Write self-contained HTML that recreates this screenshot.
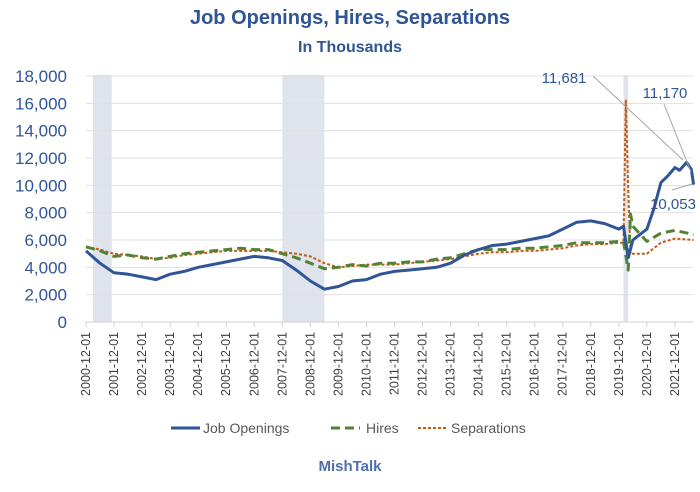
<!DOCTYPE html>
<html><head><meta charset="utf-8">
<style>
body{margin:0;background:#fff;}
svg{display:block;font-family:"Liberation Sans",sans-serif;}
</style></head>
<body>
<svg id="chart" width="700" height="492">
  <text x="350" y="24" text-anchor="middle" font-size="20" font-weight="bold" fill="#2f5597">Job Openings, Hires, Separations</text>
  <text x="350" y="52" text-anchor="middle" font-size="16" font-weight="bold" fill="#2f5597">In Thousands</text>
  <g id="bands"></g>
  <g id="grid"></g>
  <g id="xaxis"></g>
  <g id="series"></g>
  <g id="ann">
    <line x1="593" y1="76" x2="683" y2="160" stroke="#a6a6a6" stroke-width="1"/>
    <line x1="664" y1="104" x2="691" y2="172" stroke="#a6a6a6" stroke-width="1"/>
    <line x1="672" y1="190" x2="692" y2="184" stroke="#a6a6a6" stroke-width="1"/>
    <text x="564" y="83" text-anchor="middle" font-size="15" fill="#2f5597">11,681</text>
    <text x="665" y="98" text-anchor="middle" font-size="15" fill="#2f5597">11,170</text>
    <text x="673" y="209" text-anchor="middle" font-size="15" fill="#2f5597">10,053</text>
  </g>
  <g>
    <g>
      <line x1="171" y1="428" x2="200" y2="428" stroke="#2f5597" stroke-width="3"/>
      <text x="203" y="433" font-size="14" fill="#595959">Job Openings</text>
    </g>
    <g>
      <line x1="331" y1="428" x2="360" y2="428" stroke="#548235" stroke-width="3" stroke-dasharray="9,5"/>
      <text x="366" y="433" font-size="14" fill="#595959">Hires</text>
    </g>
    <g>
      <line x1="418" y1="428" x2="447" y2="428" stroke="#c55a11" stroke-width="2" stroke-dasharray="3,2"/>
      <text x="451" y="433" font-size="14" fill="#595959">Separations</text>
    </g>
  </g>
  <text x="350" y="471" text-anchor="middle" font-size="15" font-weight="bold" fill="#4f6faa">MishTalk</text>
</svg>
<script>
const yTicks=[0,2000,4000,6000,8000,10000,12000,14000,16000,18000];
const xTickLabels=["2000-12-01","2001-12-01","2002-12-01","2003-12-01","2004-12-01","2005-12-01","2006-12-01","2007-12-01","2008-12-01","2009-12-01","2010-12-01","2011-12-01","2012-12-01","2013-12-01","2014-12-01","2015-12-01","2016-12-01","2017-12-01","2018-12-01","2019-12-01","2020-12-01","2021-12-01"];
const recessions=[["2001-03","2001-11"],["2007-12","2009-06"],["2020-02","2020-04"]];
const openDates=["2000-12","2001-06","2001-12","2002-06","2002-12","2003-06","2003-12","2004-06","2004-12","2005-06","2005-12","2006-06","2006-12","2007-06","2007-12","2008-06","2008-12","2009-06","2009-12","2010-06","2010-12","2011-06","2011-12","2012-06","2012-12","2013-06","2013-12","2014-06","2014-12","2015-06","2015-12","2016-06","2016-12","2017-06","2017-12","2018-06","2018-12","2019-06","2019-12","2020-02","2020-04","2020-06","2020-12","2021-03","2021-06","2021-09","2021-12","2022-02","2022-05","2022-07","2022-08"];
const openVals=[5200,4300,3600,3500,3300,3100,3500,3700,4000,4200,4400,4600,4800,4700,4500,3800,3000,2400,2600,3000,3100,3500,3700,3800,3900,4000,4300,4900,5300,5600,5700,5900,6100,6300,6800,7300,7400,7200,6800,7000,4700,6000,6800,8300,10200,10700,11300,11100,11681,11170,10053];
const hireDates=["2000-12","2001-06","2001-12","2002-06","2002-12","2003-06","2003-12","2004-06","2004-12","2005-06","2005-12","2006-06","2006-12","2007-06","2007-12","2008-06","2008-12","2009-06","2009-12","2010-06","2010-12","2011-06","2011-12","2012-06","2012-12","2013-06","2013-12","2014-06","2014-12","2015-06","2015-12","2016-06","2016-12","2017-06","2017-12","2018-06","2018-12","2019-06","2019-12","2020-02","2020-04","2020-05","2020-06","2020-12","2021-06","2021-12","2022-08"];
const hireVals=[5500,5200,4800,4900,4700,4600,4800,5000,5100,5200,5300,5400,5300,5300,5000,4700,4300,3900,4000,4200,4100,4300,4300,4400,4400,4600,4700,5000,5300,5300,5300,5400,5400,5500,5600,5800,5800,5800,5900,5900,3800,7900,7000,5900,6500,6700,6400];
const sepDates=["2000-12","2001-06","2001-12","2002-06","2002-12","2003-06","2003-12","2004-06","2004-12","2005-06","2005-12","2006-06","2006-12","2007-06","2007-12","2008-06","2008-12","2009-06","2009-12","2010-06","2010-12","2011-06","2011-12","2012-06","2012-12","2013-06","2013-12","2014-06","2014-12","2015-06","2015-12","2016-06","2016-12","2017-06","2017-12","2018-06","2018-12","2019-06","2019-12","2020-02","2020-03","2020-04","2020-05","2020-12","2021-06","2021-12","2022-08"];
const sepVals=[5500,5300,5000,4900,4800,4600,4700,4900,5000,5100,5200,5200,5200,5200,5100,5000,4800,4300,4000,4100,4200,4200,4200,4300,4400,4500,4600,4800,5000,5100,5100,5200,5200,5300,5400,5600,5700,5700,5800,5800,16200,9800,5000,5000,5800,6100,6000];

const NS="http://www.w3.org/2000/svg";
const X0=86,PXM=2.337,Y0=322,PXV=246/18000;
function mIdx(d){const [y,m]=d.split("-").map(Number);return (y-2000)*12+(m-12);}
function xs(d){return X0+mIdx(d)*PXM;}
function ys(v){return Y0-v*PXV;}
function mk(tag,attrs,parent){const e=document.createElementNS(NS,tag);for(const k in attrs)e.setAttribute(k,attrs[k]);parent.appendChild(e);return e;}
const bands=document.getElementById('bands'),grid=document.getElementById('grid'),xa=document.getElementById('xaxis'),ser=document.getElementById('series');
recessions.forEach(r=>{
  const el=mk('rect',{x:xs(r[0]),y:75,width:xs(r[1])-xs(r[0]),height:Y0-75,fill:'#dfe3ec'},bands);
  
  
});
yTicks.forEach(v=>{
  if(v>0){const l=mk('line',{x1:X0,x2:693,y1:ys(v),y2:ys(v),stroke:'#e0e0e0','stroke-width':1},grid);
  
  }
  const t=mk('text',{x:67,y:ys(v)+6,'text-anchor':'end','font-size':17,fill:'#2f5597'},grid);
  t.textContent=v.toLocaleString('en-US');
  
  
});
const ax=mk('line',{x1:X0,x2:693,y1:Y0,y2:Y0,stroke:'#d0d0d0','stroke-width':1},xa);


xTickLabels.forEach(lab=>{
  const x=xs(lab.slice(0,7));
  mk('line',{x1:x,x2:x,y1:Y0,y2:Y0+5,stroke:'#d0d0d0'},xa);
  const t=mk('text',{x:0,y:0,'text-anchor':'end','font-size':12.5,fill:'#404040',transform:`translate(${x+4},${Y0+10}) rotate(-90)`},xa);
  t.textContent=lab;
  
  
});
function line(dates,vals,stroke,w,dash,name){
  const d=dates.map((dt,i)=>(i?'L':'M')+xs(dt).toFixed(1)+','+ys(vals[i]).toFixed(1)).join(' ');
  const p=mk('path',{d:d,fill:'none',stroke:stroke,'stroke-width':w,'stroke-linejoin':'round'},ser);
  if(dash)p.setAttribute('stroke-dasharray',dash);
  
  
}
line(sepDates,sepVals,'#c55a11',2,'3,2','separations-line');
line(hireDates,hireVals,'#548235',3,'9,5','hires-line');
line(openDates,openVals,'#2f5597',3,null,'job-openings-line');
</script>
</body></html>
